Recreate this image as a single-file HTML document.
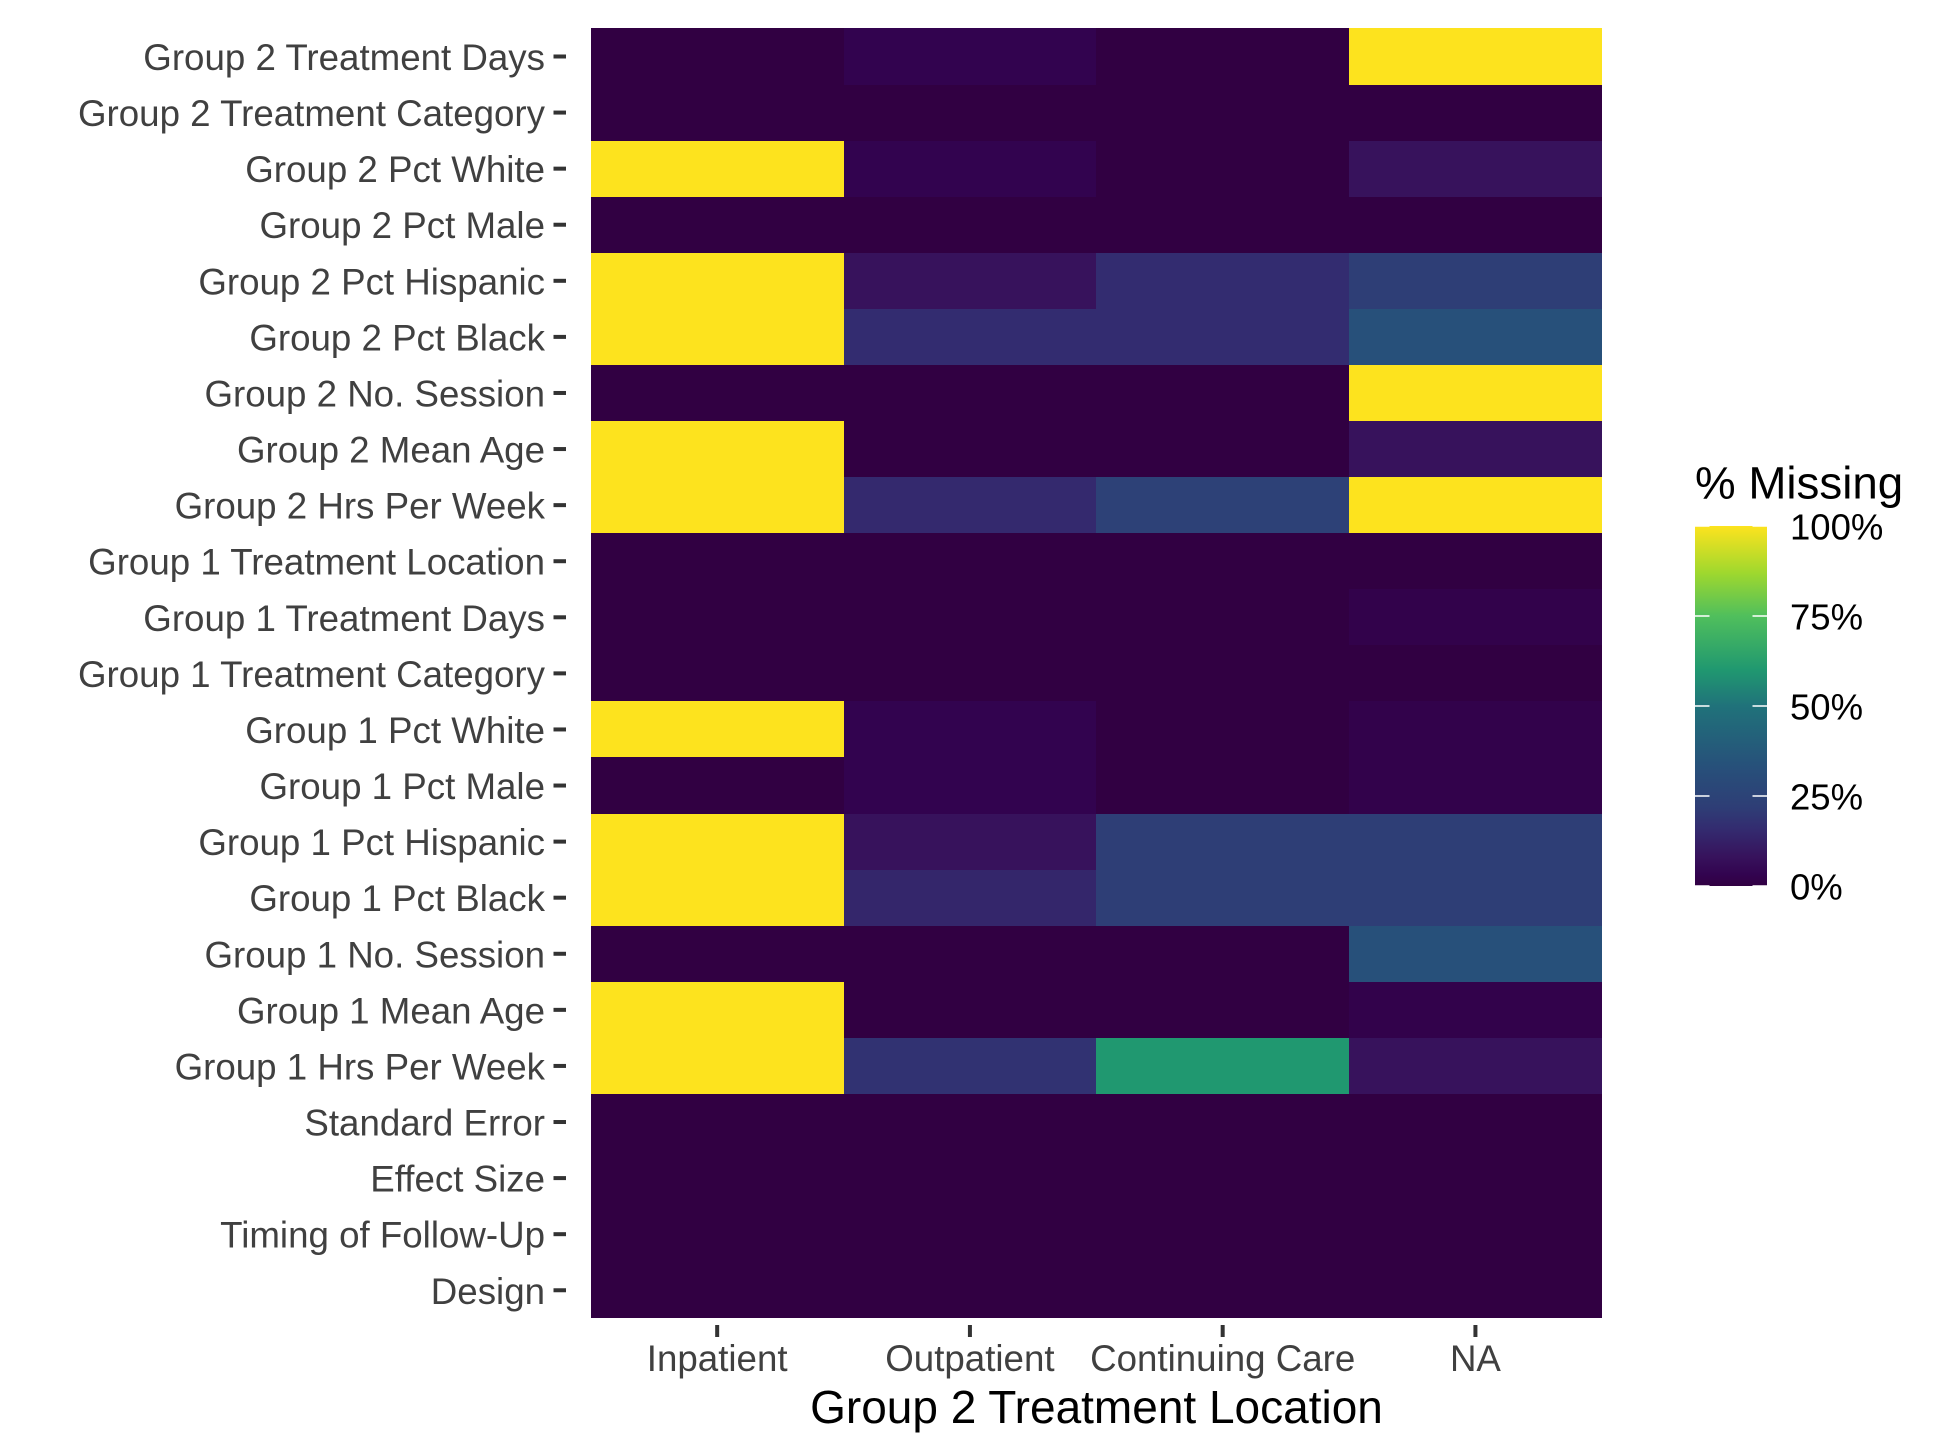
<!DOCTYPE html>
<html lang="en">
<head>
<meta charset="utf-8">
<title>% Missing heatmap by Group 2 Treatment Location</title>
<style>
  html, body { margin: 0; padding: 0; background: #fff; }
  svg { display: block; }
  text { font-family: "Liberation Sans", Arial, sans-serif; }
</style>
</head>
<body>
<svg id="chart" xmlns="http://www.w3.org/2000/svg" width="1950" height="1455" viewBox="0 0 1950 1455">
  <defs>
    <linearGradient id="legend-gradient" x1="0" y1="1" x2="0" y2="0"></linearGradient>
  </defs>
  <rect x="0" y="0" width="1950" height="1455" fill="#ffffff"></rect>
  <g id="cells" shape-rendering="crispEdges"></g>
  <g id="y-axis"></g>
  <g id="x-axis"></g>
  <text x="1096.5" y="1423" text-anchor="middle" font-size="46" fill="#000000">Group 2 Treatment Location</text>
  <g id="legend">
    <text x="1695" y="498.5" font-size="45.7" fill="#000000">% Missing</text>
    <rect x="1695" y="526" width="72" height="360" fill="url(#legend-gradient)" shape-rendering="crispEdges"></rect>
  </g>
</svg>
<script>
const categories = ["Inpatient", "Outpatient", "Continuing Care", "NA"];
const rowLabels = [
  "Group 2 Treatment Days", "Group 2 Treatment Category", "Group 2 Pct White", "Group 2 Pct Male",
  "Group 2 Pct Hispanic", "Group 2 Pct Black", "Group 2 No. Session", "Group 2 Mean Age",
  "Group 2 Hrs Per Week", "Group 1 Treatment Location", "Group 1 Treatment Days",
  "Group 1 Treatment Category", "Group 1 Pct White", "Group 1 Pct Male", "Group 1 Pct Hispanic",
  "Group 1 Pct Black", "Group 1 No. Session", "Group 1 Mean Age", "Group 1 Hrs Per Week",
  "Standard Error", "Effect Size", "Timing of Follow-Up", "Design"
];
const inpatientValues = [0, 0, 100, 0, 100, 100, 0, 100, 100, 0, 0, 0, 100, 0, 100, 100, 0, 100, 100, 0, 0, 0, 0];
const outpatientValues = [3, 0, 3, 0, 8, 16, 0, 0, 15, 0, 0, 0, 3, 3, 8, 14, 0, 0, 18, 0, 0, 0, 0];
const continuingCareValues = [0, 0, 0, 0, 16, 16, 0, 0, 24, 0, 0, 0, 0, 0, 22, 22, 0, 0, 60, 0, 0, 0, 0];
const naValues = [100, 0, 8, 0, 22, 33, 100, 8, 100, 0, 2, 0, 2, 2, 22, 22, 33, 2, 8, 0, 0, 0, 0];
const legendTicks = [0, 25, 50, 75, 100];

const seriesValues = [inpatientValues, outpatientValues, continuingCareValues, naValues];

/* Colour ramp (percent -> colour) */
const rampStops = [0, 3, 8, 16, 22, 33, 50, 60, 75, 87, 100];
const rampColors = ["#310042", "#32034f", "#37125c", "#332c70", "#2e3e76", "#27507a", "#20727a", "#209870", "#50bf5c", "#9fd82e", "#fde31e"];

const NS = "http://www.w3.org/2000/svg";
const plotLeft = 590.8, plotRight = 1601.8, plotTop = 28.45, plotBottom = 1318.3;
const bandW = (plotRight - plotLeft) / categories.length;
const bandH = (plotBottom - plotTop) / rowLabels.length;

function xLeft(i) { return plotLeft + i * bandW; }
function xCenter(i) { return xLeft(i) + bandW / 2; }
function yTop(j) { return plotTop + j * bandH; }
function yCenter(j) { return yTop(j) + bandH / 2; }
function legendY(v) { return 886 - (v / 100) * 360; }

function hexToRgb(h) {
  return [parseInt(h.slice(1, 3), 16), parseInt(h.slice(3, 5), 16), parseInt(h.slice(5, 7), 16)];
}
function colorFor(v) {
  for (let k = 1; k < rampStops.length; k++) {
    if (v <= rampStops[k]) {
      const t = (v - rampStops[k - 1]) / (rampStops[k] - rampStops[k - 1]);
      const a = hexToRgb(rampColors[k - 1]);
      const b = hexToRgb(rampColors[k]);
      return "rgb(" + a.map(function (c, n) { return Math.round(c + (b[n] - c) * t); }).join(",") + ")";
    }
  }
  return rampColors[rampColors.length - 1];
}
function make(tag, attrs) {
  const el = document.createElementNS(NS, tag);
  Object.keys(attrs).forEach(function (k) { el.setAttribute(k, attrs[k]); });
  return el;
}

const cellsGroup = document.getElementById("cells");
seriesValues.forEach(function (values, i) {
  values.forEach(function (v, j) {
    const x0 = Math.round(xLeft(i));
    const x1 = Math.round(xLeft(i + 1));
    const y0 = Math.round(yTop(j));
    const y1 = Math.round(yTop(j + 1));
    const cell = make("rect", { x: x0, y: y0, width: x1 - x0, height: y1 - y0, fill: colorFor(v) });
    
    
    cellsGroup.appendChild(cell);
  });
});

const yAxis = document.getElementById("y-axis");
rowLabels.forEach(function (label, j) {
  const cy = yCenter(j);
  const tick = make("rect", { x: 553.5, y: cy - 2, width: 12.5, height: 4, fill: "#333333" });
  
  
  yAxis.appendChild(tick);
  const txt = make("text", { x: 545, y: cy + 13.5, "text-anchor": "end", "font-size": 36.7, fill: "#404040" });
  
  
  txt.textContent = label;
  yAxis.appendChild(txt);
});

const xAxis = document.getElementById("x-axis");
categories.forEach(function (label, i) {
  const cx = xCenter(i);
  const tick = make("rect", { x: cx - 2, y: 1325, width: 4, height: 12, fill: "#333333" });
  
  
  xAxis.appendChild(tick);
  const txt = make("text", { x: cx, y: 1371, "text-anchor": "middle", "font-size": 36.7, fill: "#404040" });
  
  
  txt.textContent = label;
  xAxis.appendChild(txt);
});

const gradient = document.getElementById("legend-gradient");
rampStops.forEach(function (s, k) {
  const stop = make("stop", { offset: (s / 100), "stop-color": rampColors[k] });
  gradient.appendChild(stop);
});

const legend = document.getElementById("legend");
legendTicks.forEach(function (v) {
  const y = legendY(v);
  const left = make("rect", { x: 1695, y: y - 0.75, width: 14.5, height: 1.5, fill: "#ffffff" });
  
  
  legend.appendChild(left);
  const right = make("rect", { x: 1752.5, y: y - 0.75, width: 14.5, height: 1.5, fill: "#ffffff" });
  
  
  legend.appendChild(right);
  const txt = make("text", { x: 1790, y: y + 13.5, "font-size": 36.5, fill: "#000000" });
  
  
  txt.textContent = v + "%";
  legend.appendChild(txt);
});
</script>
</body>
</html>
